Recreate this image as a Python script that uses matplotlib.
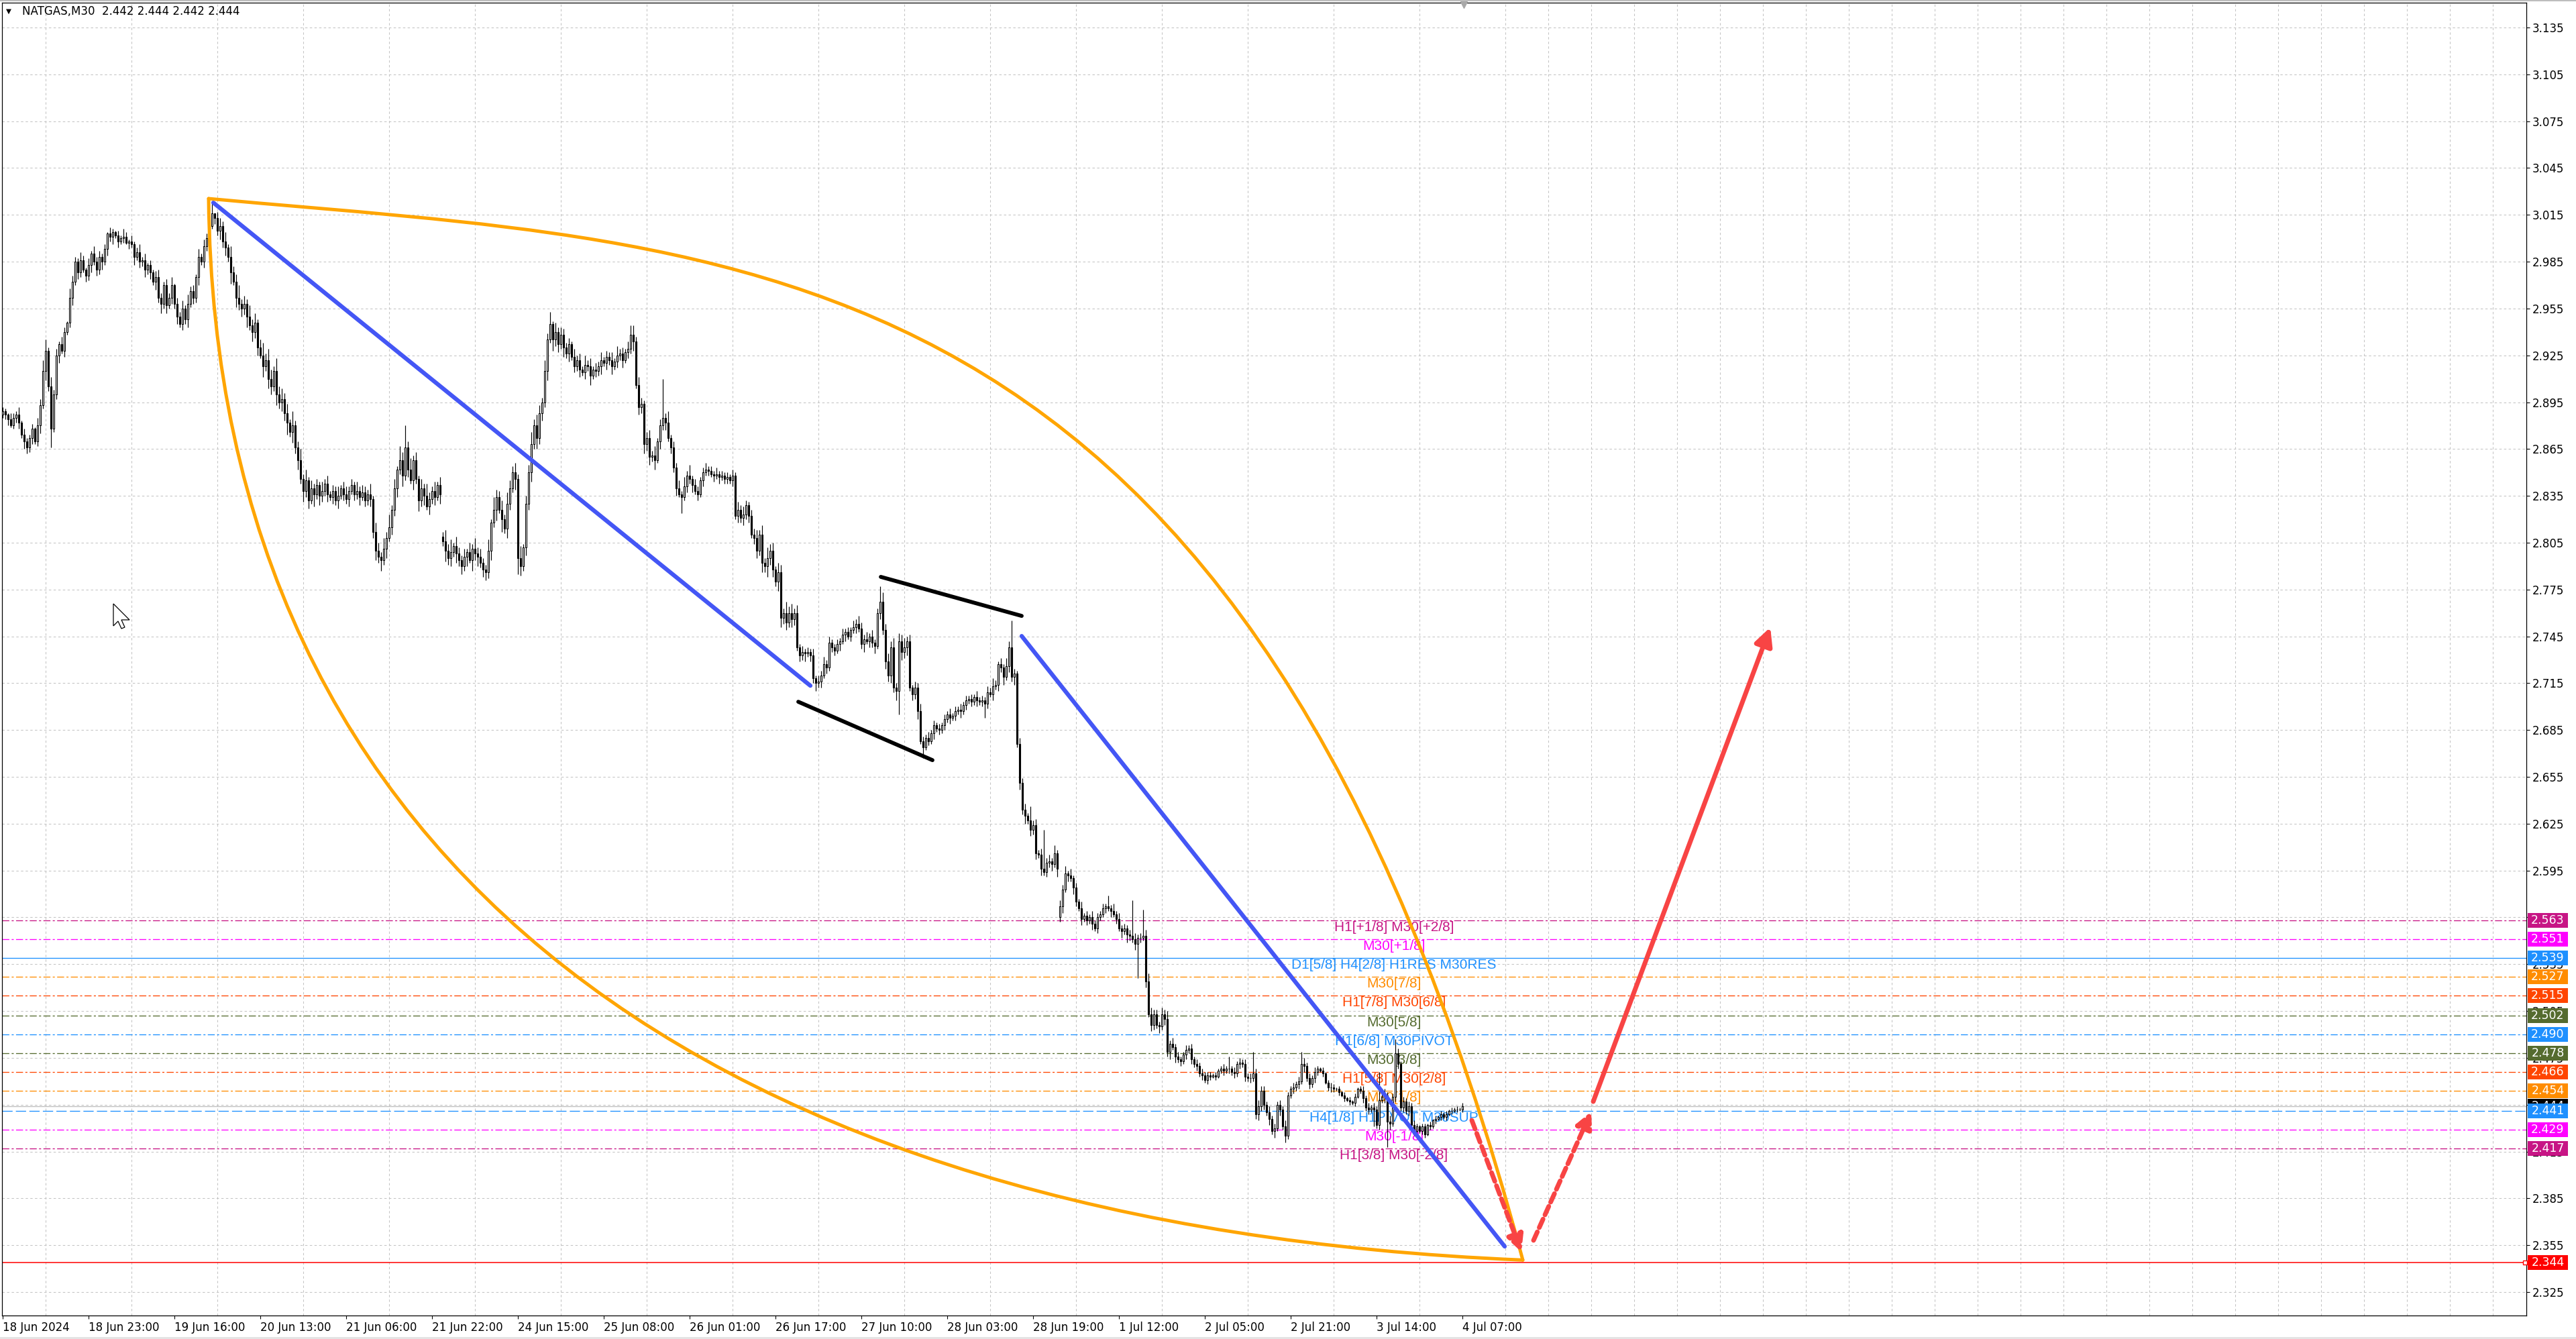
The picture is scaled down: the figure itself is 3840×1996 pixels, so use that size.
import numpy as np
import matplotlib
matplotlib.use("Agg")
import matplotlib.pyplot as plt
import matplotlib.transforms as mtransforms
from matplotlib.path import Path
from matplotlib.patches import PathPatch, Rectangle, FancyArrowPatch, Polygon

plt.rcParams['lines.scale_dashes'] = False
plt.rcParams['font.family'] = ['DejaVu Sans']

# ---- data (prices in thousandths, one value per M30 bar) ----
closes = [
    2889, 2887, 2884, 2880, 2885, 2887, 2882, 2874, 2870, 2866,
    2872, 2878, 2870, 2880, 2893, 2915, 2928, 2905, 2878, 2900,
    2925, 2932, 2928, 2940, 2946, 2962, 2972, 2985, 2978, 2986,
    2980, 2976, 2983, 2990, 2985, 2980, 2988, 2985, 2993, 3003,
    3001, 3004, 3002, 2998, 3000, 3001, 2997, 2998, 2996, 2988,
    2991, 2985, 2986, 2980, 2983, 2978, 2972, 2975, 2962, 2958,
    2970, 2957, 2962, 2970, 2958, 2950, 2945, 2955, 2948, 2958,
    2966, 2962, 2975, 2988, 2985, 2995, 3000, 3008, 3016, 3013,
    3005, 3008, 2998, 2994, 2988, 2978, 2972, 2962, 2958, 2955,
    2958, 2950, 2944, 2940, 2946, 2930, 2925, 2918, 2922, 2910,
    2905, 2915, 2900, 2895, 2897, 2888, 2882, 2876, 2880, 2866,
    2858, 2846, 2838, 2845, 2832, 2840, 2836, 2842, 2835, 2838,
    2843, 2836, 2834, 2838, 2832, 2835, 2840, 2836, 2833, 2838,
    2842, 2836, 2838, 2834, 2837, 2832, 2836, 2833, 2812, 2800,
    2796, 2794, 2801, 2808, 2815, 2826, 2840, 2852, 2858, 2848,
    2866, 2852, 2845, 2858, 2846, 2832, 2840, 2835, 2828, 2833,
    2838, 2834, 2842, 2836, 2806, 2800, 2795, 2799, 2803, 2798,
    2794, 2790, 2796, 2799, 2794, 2801, 2798, 2796, 2792, 2788,
    2786, 2800, 2818, 2826, 2834, 2826, 2820, 2814, 2830, 2840,
    2850, 2846, 2795, 2790, 2802, 2830, 2850, 2868, 2880, 2872,
    2888, 2895, 2915, 2935, 2945, 2935, 2940, 2932, 2938, 2930,
    2926, 2932, 2924, 2918, 2922, 2916, 2914, 2919, 2918, 2912,
    2916, 2915, 2918, 2922, 2920, 2924, 2922, 2918, 2921, 2925,
    2926, 2922, 2927, 2929, 2938, 2934, 2906, 2892, 2894, 2868,
    2872, 2860, 2861, 2858, 2870, 2880, 2885, 2882, 2872, 2866,
    2853, 2840, 2836, 2834, 2841, 2848, 2846, 2842, 2838, 2836,
    2845, 2850, 2852, 2851, 2849, 2848, 2849, 2847, 2848, 2846,
    2847, 2845, 2848, 2822, 2826, 2821, 2823, 2829, 2822, 2810,
    2808, 2800, 2810, 2792, 2790, 2795, 2800, 2788, 2780, 2786,
    2757, 2760, 2754, 2760, 2756, 2760, 2738, 2733, 2735, 2734,
    2735, 2733, 2718, 2715, 2716, 2720, 2727, 2725, 2741, 2738,
    2736, 2740, 2742, 2746, 2748, 2745, 2749, 2751, 2753, 2750,
    2740, 2743, 2742, 2745, 2741, 2739, 2760, 2767, 2749, 2729,
    2720, 2738, 2712, 2710, 2742, 2735, 2738, 2742, 2712, 2708,
    2712, 2697, 2678, 2674, 2680, 2678, 2683, 2688, 2686, 2685,
    2688, 2692, 2695, 2693, 2694, 2697, 2698, 2697, 2701, 2704,
    2705, 2703, 2706, 2704, 2703, 2704, 2702, 2709, 2708, 2713,
    2714, 2727, 2725, 2719, 2726, 2738, 2719, 2721, 2676, 2651,
    2634, 2630, 2627, 2621, 2624, 2606, 2605, 2596, 2594, 2600,
    2601, 2599, 2606, 2596, 2572, 2583, 2593, 2592, 2590, 2584,
    2575, 2571, 2564, 2566, 2563, 2565, 2561, 2558, 2565, 2567,
    2571, 2572, 2571, 2569, 2567, 2564, 2558, 2556, 2558, 2554,
    2553, 2551, 2548, 2552, 2552, 2553, 2524, 2503, 2496, 2503,
    2496, 2495, 2503, 2500, 2479, 2484, 2482, 2476, 2474, 2473,
    2477, 2480, 2481, 2474, 2471, 2470, 2465, 2464, 2461, 2464,
    2463, 2464, 2463, 2467, 2468, 2467, 2468, 2468, 2466, 2465,
    2471, 2472, 2471, 2463, 2462, 2462, 2465, 2439, 2444, 2454,
    2445, 2440, 2436, 2428, 2430, 2445, 2442, 2431, 2425, 2451,
    2455, 2456, 2458, 2460, 2471, 2470, 2462, 2458, 2462, 2466,
    2468, 2467, 2465, 2459, 2456, 2456, 2455, 2455, 2453, 2451,
    2449, 2448, 2447, 2446, 2450, 2455, 2454, 2449, 2443, 2442,
    2443, 2442, 2432, 2448, 2450, 2451, 2434, 2433, 2450, 2478,
    2471, 2443, 2447, 2441, 2444, 2432, 2428, 2431, 2428, 2431,
    2426, 2432, 2431, 2435, 2436, 2437, 2439, 2437, 2439, 2441,
    2441, 2442, 2442, 2442, 2444,
]
first_open = 2887
open_gaps = {164: 2809, 394: 2565}

# wick lengths above / below the body, thousandths, one digit per bar
upper_wick = (
    "3214325142" "2315473263" "4253164325" "3142534231" "4213253142"
    "3524132453" "2435143526" "3425243160" "4536274583" "5374625847"
    "6385746293" "4737253426" "3524362453" "4263543726" "5374836295"
    "0473526384" "3625374826" "4352637453" "3728546375" "4638255847"
    "5374826354" "3425342635" "2435243526" "3425263542" "4536245372"
    "4352637243" "2342324232" "3242535324" "4536374526" "5374635242"
    "3242435342" "2324232435" "4352423264" "5463546342" "4353242323"
    "2324232423" "2324232435" "3242544324" "3425342423" "4252435242"
    "3242324232" "3242524232" "3242324543" "3242524232" "2323232322"
    "2121232323" "2323232343" "3242323242" "2323242323" "2121232121"
    "2121212323" "2323242423" "3232323212" "2121212121" "2121211111"
)
lower_wick = (
    "2341234253" "3423526342" "3524235243" "2435243524" "3524231425"
    "2435342536" "3524352435" "2435243524" "3645372645" "4736452736"
    "5374658374" "6374528364" "3524352435" "2435243546" "4736254637"
    "3526374625" "3526374536" "4536274635" "5463728364" "3726354637"
    "4536274536" "3524352436" "2435243524" "3524362546" "4536253524"
    "3526243524" "2423242423" "3242435342" "4536474536" "6453542435"
    "2435342423" "3242423242" "3524352435" "4536354524" "3524232423"
    "2324232423" "2324232324" "2435243524" "3524342423" "3425342424"
    "3242324232" "2324232425" "3242324243" "2424352423" "2323232323"
    "2121232323" "2323232343" "3242324232" "2323242323" "2121232121"
    "2121212323" "2323242423" "3232323212" "2121212121" "2121211111"
)
spike_high = {16: 2.935, 78: 3.023, 150: 2.880, 234: 2.944, 246: 2.910,
              327: 2.777, 376: 2.755, 383: 2.636, 388: 2.621, 412: 2.579,
              421: 2.576, 425: 2.570, 433: 2.506, 457: 2.476, 466: 2.479,
              484: 2.479, 513: 2.466, 519: 2.487, 520: 2.481}
spike_low = {9: 2.862, 18: 2.866, 141: 2.790, 192: 2.785, 253: 2.824,
             283: 2.788, 292: 2.750, 334: 2.695, 343: 2.667, 366: 2.693,
             423: 2.526, 474: 2.424, 478: 2.421, 511: 2.431, 516: 2.418}

date_labels = ['18 Jun 2024', '18 Jun 23:00', '19 Jun 16:00', '20 Jun 13:00',
               '21 Jun 06:00', '21 Jun 22:00', '24 Jun 15:00', '25 Jun 08:00',
               '26 Jun 01:00', '26 Jun 17:00', '27 Jun 10:00', '28 Jun 03:00',
               '28 Jun 19:00', '1 Jul 12:00', '2 Jul 05:00', '2 Jul 21:00',
               '3 Jul 14:00', '4 Jul 07:00']

level_prices = [2.563, 2.551, 2.539, 2.527, 2.515, 2.502, 2.490,
                2.478, 2.466, 2.454, 2.441, 2.429, 2.417]
level_names = ['H1[+1/8] M30[+2/8]', 'M30[+1/8]', 'D1[5/8] H4[2/8] H1RES M30RES',
               'M30[7/8]', 'H1[7/8] M30[6/8]', 'M30[5/8]', 'H1[6/8] M30PIVOT',
               'M30[3/8]', 'H1[5/8] M30[2/8]', 'M30[1/8]', 'H4[1/8] H1PIVOT M30SUP',
               'M30[-1/8]', 'H1[3/8] M30[-2/8]']
last_ohlc = [2.442, 2.444, 2.442, 2.444]
bid_price = 2.444
target_price = 2.344

# hand drawn objects, (bar, price)
blue_trends = [((78.5, 3.0228), (301.0, 2.7134)),
               ((379.75, 2.7452), (559.75, 2.3542))]
black_channel = [((327.25, 2.7831), (379.75, 2.7581)),
                 ((296.5, 2.7031), (346.5, 2.6657))]
arc_upper = [(76.75, 3.0254), (276.75, 2.9936), (464.0, 3.0039), (566.5, 2.3455)]
arc_lower = [(76.75, 3.0254), (79.25, 2.5957), (266.5, 2.3671), (566.5, 2.3455)]
dashed_arrows = [((547.5, 2.435), (566.0, 2.3507)),
                 ((570.5, 2.3581), (592.0, 2.4406))]
solid_arrow = ((592.75, 2.447), (658.75, 2.7508))

# ---- build candles ----
n = len(closes)
x = np.arange(n)
c = np.array(closes) / 1000.0
o = np.r_[first_open, closes[:-1]] / 1000.0
for k, v in open_gaps.items():
    o[k] = v / 1000.0
uw = np.array([int(d) for d in ''.join(upper_wick)][:n]) / 1000.0
lw = np.array([int(d) for d in ''.join(lower_wick)][:n]) / 1000.0
hi = np.maximum(o, c) + uw
lo = np.minimum(o, c) - lw
for k, v in spike_high.items():
    hi[k] = max(hi[k], v)
for k, v in spike_low.items():
    lo[k] = min(lo[k], v)

# ---- figure ----
W, H = 3840, 1996
fig = plt.figure(figsize=(W / 100, H / 100), dpi=100)
ax = fig.add_axes([3 / W, 35 / H, 3763 / W, 1957 / H])
ax.set_xlim(-0.25, 940.5)
ax.set_ylim(2.30996, 3.15090)
ax.set_axisbelow(True)

for s in ax.spines.values():
    s.set_color('black')
    s.set_linewidth(0.9)

yt = np.round(np.arange(2.325, 3.1351, 0.03), 3)
ax.set_yticks(yt)
ax.set_yticklabels([f'{v:.3f}' for v in yt])
ax.yaxis.tick_right()
ax.tick_params(axis='y', direction='out', length=3.6, width=0.8, pad=3, labelsize=12)

ax.set_xticks(np.arange(len(date_labels)) * 32)
ax.set_xticklabels(date_labels, ha='left')
ax.tick_params(axis='x', direction='out', length=3.6, width=0.8, pad=3, labelsize=12)
ax.set_xticks(np.arange(0, 941, 16), minor=True)
ax.tick_params(which='minor', length=0)

grid_kw = dict(color='#C4C4C4', linewidth=0.75, linestyle=(0, (2.5, 2.5)))
ax.grid(True, which='minor', axis='x', **grid_kw)
ax.grid(True, which='major', axis='y', **grid_kw)

# levels
level_colors = ['#C71585', '#FF00FF', '#1E90FF', '#FF8C00', '#FF4500', '#556B2F',
                '#1E90FF', '#556B2F', '#FF4500', '#FF8C00', '#1E90FF', '#FF00FF', '#C71585']
dashdot = (0, (7.5, 2.5, 2.2, 2.5))
for p, name, col in zip(level_prices, level_names, level_colors):
    if p == 2.539:
        ls = '-'
    elif p == 2.441:
        ls = (0, (11, 3.5))
    else:
        ls = dashdot
    ax.axhline(p, color=col, lw=0.95, ls=ls, zorder=1.5)
    ax.annotate(name, xy=(518.5, p), xytext=(0, -1), textcoords='offset pixels',
                ha='center', va='top', color=col, fontsize=15,
                family=['Liberation Sans', 'DejaVu Sans'], zorder=2)

ax.axhline(bid_price, color='#C0C0C0', lw=1.0, zorder=1.6)
ax.axhline(target_price, color='#FF0000', lw=1.1, zorder=1.6)

# candles
ax.vlines(x, lo, hi, color='black', lw=0.85, zorder=3)
up = c >= o
ax.bar(x[up], c[up] - o[up], bottom=o[up], width=0.55, facecolor='white',
       edgecolor='black', linewidth=0.8, zorder=3.1)
ax.bar(x[~up], o[~up] - c[~up], bottom=c[~up], width=0.55, facecolor='black',
       edgecolor='black', linewidth=0.8, zorder=3.1)

# trend objects
for (x0, y0), (x1, y1) in blue_trends:
    ax.plot([x0, x1], [y0, y1], color='#4456F5', lw=4.5, solid_capstyle='round', zorder=4)
for (x0, y0), (x1, y1) in black_channel:
    ax.plot([x0, x1], [y0, y1], color='black', lw=4.2, solid_capstyle='round', zorder=4)
codes = [Path.MOVETO, Path.CURVE4, Path.CURVE4, Path.CURVE4]
for arc in (arc_upper, arc_lower):
    ax.add_patch(PathPatch(Path(arc, codes), fill=False, edgecolor='#FFA500',
                           lw=3.6, capstyle='round', zorder=4.2))

red = '#F84444'
for start, end in dashed_arrows:
    ax.add_patch(FancyArrowPatch(start, end, arrowstyle='-|>', mutation_scale=36,
                                 color=red, lw=5.0, linestyle=(0, (10, 5)),
                                 shrinkA=0, shrinkB=0, zorder=4.5))
ax.add_patch(FancyArrowPatch(solid_arrow[0], solid_arrow[1], arrowstyle='-|>',
                             mutation_scale=40, color=red, lw=5,
                             shrinkA=0, shrinkB=0, zorder=4.5))

# price boxes on the right scale
blend = mtransforms.blended_transform_factory(ax.transAxes, ax.transData)
box_x = 1 + 2 / 3763
box_w = 60 / 3763
box_h = 22 / 2327.2


def price_box(p, fc, z):
    ax.add_patch(Rectangle((box_x, p - box_h / 2), box_w, box_h, transform=blend,
                           facecolor=fc, edgecolor='none', clip_on=False, zorder=z))
    ax.text(box_x + box_w / 2, p, f'{p:.3f}', transform=blend, ha='center',
            va='center', color='white', fontsize=12.5, clip_on=False, zorder=z + 0.1)


price_box(bid_price, 'black', 5.5)
for p, col in zip(level_prices, level_colors):
    price_box(p, col, 6)
price_box(target_price, '#FF0000', 6)
ax.plot([1 - 2 / 3763], [target_price], transform=blend, marker='s', ms=4,
        mfc='white', mec='#FF0000', mew=1, clip_on=False, zorder=6)

# chart shift marker
ax.plot([n - 0.5], [3.1495], marker='v', ms=7, color='#A8A8A8', clip_on=False, zorder=6)

# mouse pointer left on the chart (screen decoration)
tip = (169, 900)
shape = [(0, 0), (0, 33), (7, 26), (12, 37), (17, 35), (12, 24), (24, 24)]
fig.patches.append(Polygon([((tip[0] + dx) / W, 1 - (tip[1] + dy) / H) for dx, dy in shape],
                           closed=True, transform=fig.transFigure, facecolor='white',
                           edgecolor='black', lw=0.9, zorder=10))

# header
fig.text(9 / W, 1 - 17 / H, '\u25BC', fontsize=7.5, va='center', color='black')
fig.text(33 / W, 1 - 17 / H, 'NATGAS,M30  ' + ' '.join(f'{v:.3f}' for v in last_ohlc),
         fontsize=12, va='center', color='black')
fig.patches.append(Rectangle((0, 0), 1, 3 / H, transform=fig.transFigure,
                             facecolor='#E4E4E4', edgecolor='none'))
fig.patches.append(Rectangle((0, 1 - 2 / H), 1, 2 / H, transform=fig.transFigure,
                             facecolor='#BDBDBD', edgecolor='none'))

fig.savefig('out.png', dpi=100, facecolor='white')
